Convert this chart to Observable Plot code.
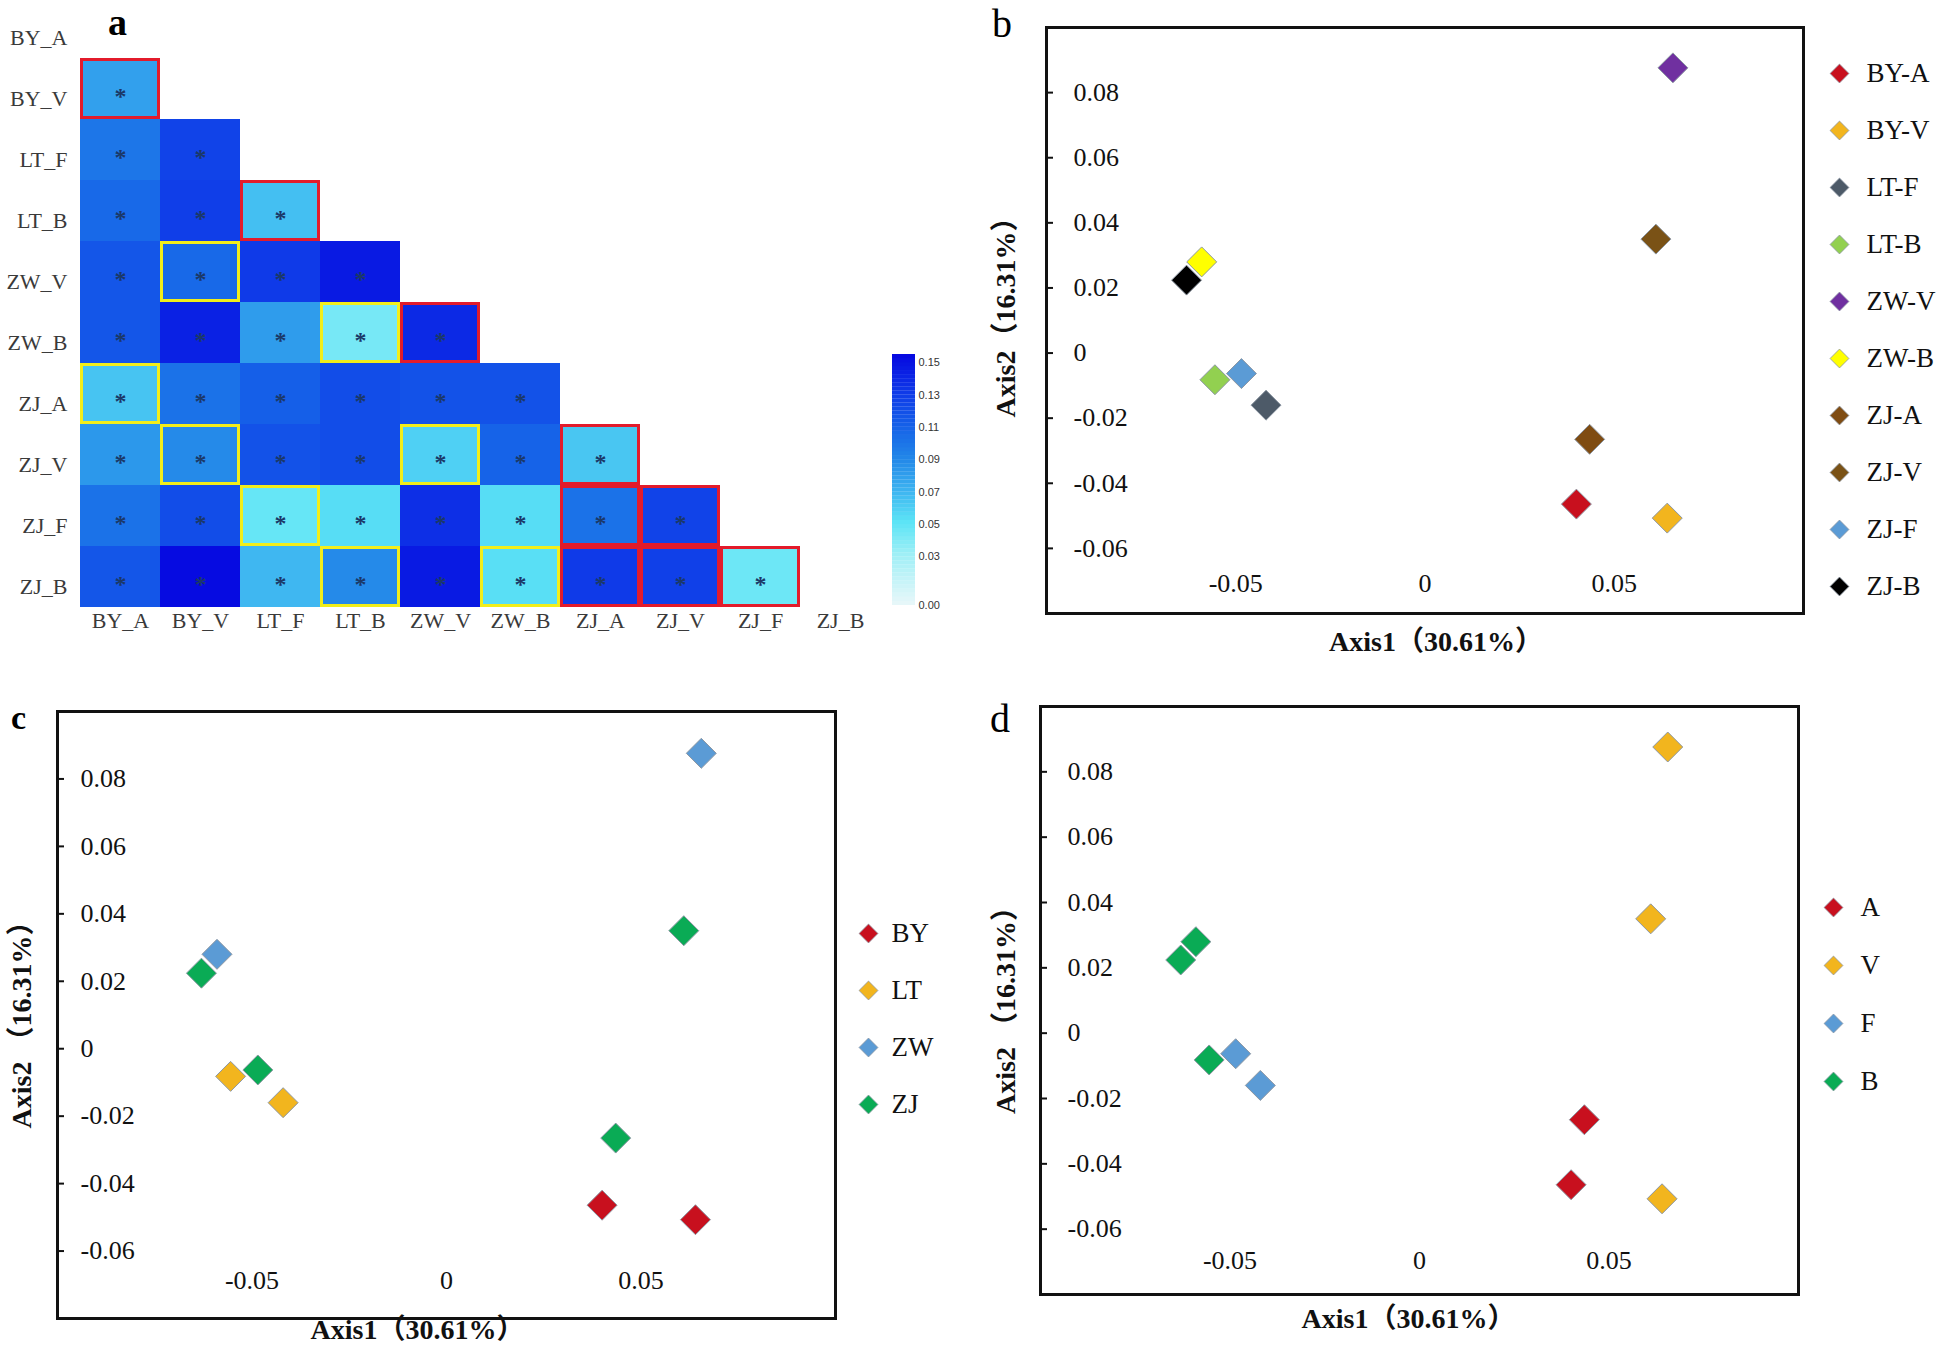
<!DOCTYPE html>
<html>
<head>
<meta charset="utf-8">
<script src="https://cdn.jsdelivr.net/npm/d3@7"></script>
<script src="https://cdn.jsdelivr.net/npm/@observablehq/plot@0.6"></script>
<style>
  body { margin: 0; background: #fff; }
  #root { position: relative; width: 1944px; height: 1353px; overflow: hidden; background: #fff; }
  .letter { position: absolute; font-family: 'Liberation Serif', serif; line-height: 1.2; color: #000; }
</style>
</head>
<body>
<div id="root"></div>
<script>
// ---------------- Panel a: heatmap data ----------------
const sampleNames = ["BY_A","BY_V","LT_F","LT_B","ZW_V","ZW_B","ZJ_A","ZJ_V","ZJ_F","ZJ_B"];
// lower triangle, row i (from BY_V) vs columns BY_A..
const heatValues = [
  [0.078],
  [0.098, 0.125],
  [0.105, 0.128, 0.065],
  [0.115, 0.105, 0.130, 0.145],
  [0.115, 0.142, 0.080, 0.042, 0.138],
  [0.063, 0.100, 0.110, 0.120, 0.117, 0.117],
  [0.082, 0.088, 0.117, 0.120, 0.058, 0.108, 0.062],
  [0.100, 0.120, 0.047, 0.053, 0.135, 0.053, 0.100, 0.125],
  [0.115, 0.152, 0.068, 0.088, 0.145, 0.052, 0.130, 0.127, 0.045]
];
const redPairs = [["BY_V","BY_A"],["LT_B","LT_F"],["ZW_B","ZW_V"],["ZJ_V","ZJ_A"],["ZJ_F","ZJ_A"],["ZJ_F","ZJ_V"],["ZJ_B","ZJ_A"],["ZJ_B","ZJ_V"],["ZJ_B","ZJ_F"]];
const yellowPairs = [["ZW_V","BY_V"],["ZW_B","LT_B"],["ZJ_A","BY_A"],["ZJ_V","BY_V"],["ZJ_V","ZW_V"],["ZJ_F","LT_F"],["ZJ_B","LT_B"],["ZJ_B","ZW_B"]];
const colorbarTicks = [0.15, 0.13, 0.11, 0.09, 0.07, 0.05, 0.03, 0.00];
const colorStops = [0, 0.03, 0.05, 0.07, 0.09, 0.11, 0.13, 0.155];
const colorStopColors = ["#e6f7f9", "#9feff6", "#5ce4f6", "#3cb2f0", "#2286e8", "#155fe8", "#0f3ae8", "#0505e0"];

// ---------------- Panels b-d: PCoA data ----------------
const samples = ["BY-A","BY-V","LT-F","LT-B","ZW-V","ZW-B","ZJ-A","ZJ-V","ZJ-F","ZJ-B"];
const axis1 = [0.040, 0.064, -0.042, -0.0555, 0.0655, -0.059, 0.0435, 0.061, -0.0485, -0.063];
const axis2 = [-0.0464, -0.0507, -0.016, -0.0082, 0.0876, 0.028, -0.0265, 0.035, -0.0063, 0.0224];
const sites = ["BY","BY","LT","LT","ZW","ZW","ZJ","ZJ","ZJ","ZJ"];
const parts = ["A","V","F","B","V","B","A","V","F","B"];
const sampleColors = ["#c8101e","#f2b51e","#4d5a68","#92d050","#7030a0","#ffff00","#7f4c12","#7a5216","#5b9bd5","#000000"];
const siteNames = ["BY","LT","ZW","ZJ"];
const siteColors = ["#c8101e","#f2b51e","#5b9bd5","#0aab55"];
const partNames = ["A","V","F","B"];
const partColors = ["#c8101e","#f2b51e","#5b9bd5","#0aab55"];
const yTickValues = [-0.06, -0.04, -0.02, 0, 0.02, 0.04, 0.06, 0.08];
const xTickValues = [-0.05, 0, 0.05];
const xTitle = "Axis1（30.61%）";

const serif = "'Liberation Serif', 'Noto Sans CJK SC', serif";
const root = document.getElementById("root");

function place(el, left, top) {
  el.style.position = "absolute";
  el.style.left = left + "px";
  el.style.top = top + "px";
  el.style.background = "transparent";
  el.style.overflow = "visible";
  root.appendChild(el);
}
function letter(ch, left, top, size, weight) {
  const d = document.createElement("div");
  d.className = "letter";
  d.textContent = ch;
  d.style.left = left + "px";
  d.style.top = top + "px";
  d.style.fontSize = size + "px";
  d.style.fontWeight = weight;
  root.appendChild(d);
}

// ---------------- Heatmap ----------------
const cells = [];
sampleNames.forEach((r, i) => {
  if (i === 0) return;
  heatValues[i - 1].forEach((v, j) => cells.push({row: r, col: sampleNames[j], value: v}));
});
const toCell = ([row, col]) => ({row, col});

const heat = Plot.plot({
  width: 970, height: 680,
  marginLeft: 80, marginRight: 90, marginTop: 0, marginBottom: 69,
  x: {type: "band", domain: sampleNames, padding: 0, axis: null},
  y: {type: "band", domain: sampleNames, padding: 0, axis: null},
  color: {type: "linear", domain: colorStops, range: colorStopColors},
  style: {fontFamily: serif, color: "#3a3a3a", background: "transparent"},
  marks: [
    Plot.cell(cells, {x: "col", y: "row", fill: "value"}),
    Plot.text(cells, {x: "col", y: "row", text: () => "*", fill: "#1b3868", fontSize: 24, dy: 7, fontWeight: "bold"}),
    Plot.cell(yellowPairs.map(toCell), {x: "col", y: "row", fill: "none", stroke: "#f2ee1a", strokeWidth: 3, inset: 1.5}),
    Plot.cell(redPairs.map(toCell), {x: "col", y: "row", fill: "none", stroke: "#e31b2b", strokeWidth: 3, inset: 1.5}),
    Plot.axisX({anchor: "bottom", tickSize: 0, tickPadding: 5, fontSize: 22, label: null, fill: "#3a3a3a"}),
    Plot.axisY({anchor: "left", tickSize: 0, tickPadding: 13, fontSize: 22, dy: 10, label: null, fill: "#3a3a3a"})
  ]
});
place(heat, 0, -4);

// colorbar
const cbSteps = d3.range(0, 0.155, 0.0025);
const colorbar = Plot.plot({
  width: 70, height: 272,
  marginLeft: 0, marginRight: 47, marginTop: 10, marginBottom: 11,
  y: {domain: [0, 0.155], axis: null},
  color: {type: "linear", domain: colorStops, range: colorStopColors},
  style: {fontFamily: "'Liberation Sans', Arial, sans-serif", background: "transparent"},
  marks: [
    Plot.rectY(cbSteps, {y1: d => d, y2: d => Math.min(d + 0.0026, 0.155), fill: d => d}),
    Plot.axisY(colorbarTicks, {anchor: "right", tickSize: 0, tickPadding: 3, fontSize: 11, tickFormat: d => d.toFixed(2), label: null, fill: "#333"})
  ]
});
place(colorbar, 892, 344);

// ---------------- PCoA scatter panels ----------------
const points = samples.map((s, i) => ({sample: s, site: sites[i], part: parts[i], a1: axis1[i], a2: axis2[i]}));
const fmtTick = d => d === 0 ? "0" : d.toFixed(2);

function scatter(o) {
  const fw = o.width - o.mL - o.mR;
  return Plot.plot({
    width: o.width, height: o.height,
    marginLeft: o.mL, marginRight: o.mR, marginTop: o.mT, marginBottom: o.mB,
    x: {domain: [-0.1, 0.1], axis: null},
    y: {domain: [-0.08, 0.1], axis: null},
    color: {type: "ordinal", domain: o.colorDomain, range: o.colorRange},
    style: {fontFamily: serif, color: "#000", background: "transparent"},
    marks: [
      Plot.frame({stroke: "#111", strokeWidth: 3}),
      Plot.tickY(yTickValues, {y: d => d, insetRight: fw - 7, stroke: "#111", strokeWidth: 2}),
      Plot.text(yTickValues, {y: d => d, frameAnchor: "left", dx: o.ytickDx, textAnchor: "start", text: fmtTick, fontSize: 26, fill: "#111"}),
      Plot.text(xTickValues, {x: d => d, frameAnchor: "bottom", dy: o.xtickDy, text: fmtTick, fontSize: 26, fill: "#111"}),
      Plot.dot(points, {x: "a1", y: "a2", fill: o.colorKey, symbol: "diamond2", r: 13.5, stroke: "#8d97a3", strokeWidth: 1}),
      Plot.text([xTitle], {frameAnchor: "bottom", textAnchor: "middle", dx: o.xtitleDx, dy: o.xtitleDy, text: d => d, fontSize: 28, fontWeight: "bold", fill: "#111"}),
      Plot.text([o.yTitle], {frameAnchor: "left", textAnchor: "middle", dx: o.ytitleDx, dy: o.ytitleDy, rotate: -90, text: d => d, fontSize: 28, fontWeight: "bold", fill: "#111"})
    ]
  });
}

function legend(names, colors, o) {
  const pad = 14;
  return Plot.plot({
    width: 140, height: o.step * (names.length - 1) + 2 * pad,
    marginLeft: 0, marginRight: 0, marginTop: pad, marginBottom: pad,
    y: {type: "point", domain: names, padding: 0, axis: null},
    color: {type: "ordinal", domain: names, range: colors},
    style: {fontFamily: serif, background: "transparent"},
    marks: [
      Plot.dot(names, {y: d => d, frameAnchor: "left", dx: 12, symbol: "diamond2", r: 8.5, fill: d => d, stroke: "#8d97a3", strokeWidth: 0.8}),
      Plot.text(names, {y: d => d, frameAnchor: "left", dx: o.textDx, textAnchor: "start", text: d => d, fontSize: 27, fill: "#111"})
    ]
  });
}

// b
place(scatter({width: 972, height: 676, mL: 74, mR: 141, mT: 27, mB: 63,
  colorDomain: samples, colorRange: sampleColors, colorKey: "sample",
  ytickDx: 27, xtickDy: -22, xtitleDx: 11, xtitleDy: 37, ytitleDx: -40, ytitleDy: -10,
  yTitle: "Axis2（16.31%）"}), 972, 0);
place(legend(samples, sampleColors, {step: 57.6, textDx: 39}), 1827, 70 - 14);

// c
place(scatter({width: 972, height: 677, mL: 57, mR: 137, mT: 35, mB: 35,
  colorDomain: siteNames, colorRange: siteColors, colorKey: "site",
  ytickDx: 23, xtickDy: -30, xtitleDx: -29, xtitleDy: 20, ytitleDx: -35, ytitleDy: 3,
  yTitle: "Axis2 （16.31%）"}), 0, 676);
place(legend(siteNames, siteColors, {step: 57.7, textDx: 35}), 856, 932 - 14);

// d
place(scatter({width: 972, height: 677, mL: 68, mR: 146, mT: 30, mB: 59,
  colorDomain: partNames, colorRange: partColors, colorKey: "part",
  ytickDx: 27, xtickDy: -26, xtitleDx: -11, xtitleDy: 33, ytitleDx: -34, ytitleDy: 3,
  yTitle: "Axis2 （16.31%）"}), 972, 676);
place(legend(partNames, partColors, {step: 58.7, textDx: 39}), 1821, 906 - 14);

// panel letters
letter("a", 108, 0, 38, "bold");
letter("b", 992, 0, 40, "normal");
letter("c", 11, 698, 34, "bold");
letter("d", 990, 695, 40, "normal");
</script>
</body>
</html>
